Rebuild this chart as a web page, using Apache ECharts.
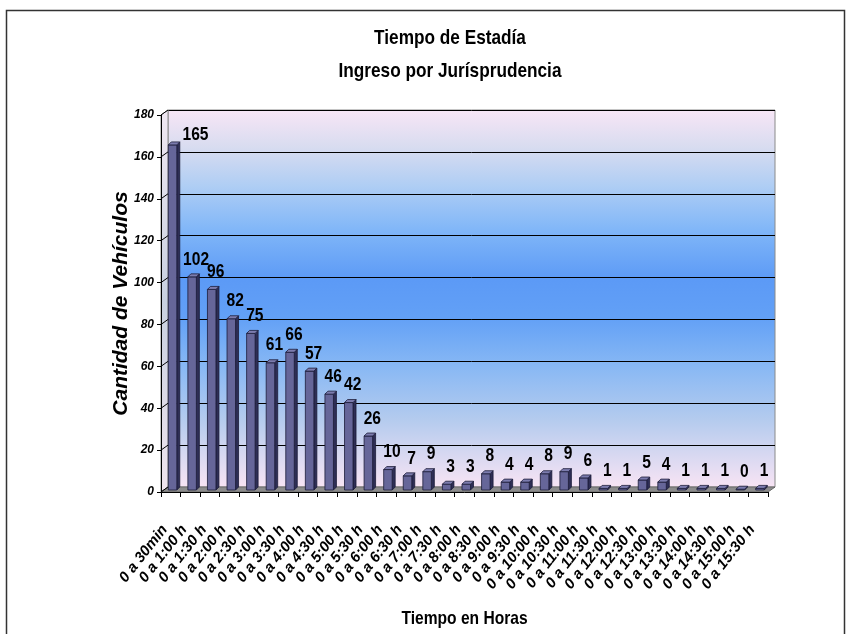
<!DOCTYPE html>
<html><head><meta charset="utf-8">
<script src="https://cdn.jsdelivr.net/npm/echarts@6/dist/echarts.min.js"></script>
<style>html,body{margin:0;padding:0;background:#fff}#c{width:850px;height:634px}</style>
</head><body><div id="c"></div>
<script>
const categories = ['0 a 30min','0 a 1:00 h','0 a 1:30 h','0 a 2:00 h','0 a 2:30 h','0 a 3:00 h','0 a 3:30 h','0 a 4:00 h','0 a 4:30 h','0 a 5:00 h','0 a 5:30 h','0 a 6:00 h','0 a 6:30 h','0 a 7:00 h','0 a 7:30 h','0 a 8:00 h','0 a 8:30 h','0 a 9:00 h','0 a 9:30 h','0 a 10:00 h','0 a 10:30 h','0 a 11:00 h','0 a 11:30 h','0 a 12:00 h','0 a 12:30 h','0 a 13:00 h','0 a 13:30 h','0 a 14:00 h','0 a 14:30 h','0 a 15:00 h','0 a 15:30 h'];
const values = [165,102,96,82,75,61,66,57,46,42,26,10,7,9,3,3,8,4,4,8,9,6,1,1,5,4,1,1,1,0,1];
const yMin = 0, yMax = 180, yStep = 20;
const titleText = 'Tiempo de Estadía';
const subtitleText = 'Ingreso por Jurísprudencia';
const yAxisName = 'Cantidad de Vehículos';
const xAxisName = 'Tiempo en Horas';

// layout
const G = {left:161, top:115, width:607, height:377};
const D = {dx:7, dy:-5};
const arial = '"Liberation Sans",Arial,sans-serif';
const NARROW = 0.82;

const chart = echarts.init(document.getElementById('c'), null, {renderer:'canvas'});

function renderBar(params, api){
  const idx = api.value(0), v = api.value(1);
  const p = api.coord([idx, v]);
  const b = api.coord([idx, 0]);
  const bw = 8.5, sd = 3;
  const x0 = p[0] - 2.5, x1 = x0 + bw;
  const yb = b[1] - 2;
  let yt = Math.min(p[1] - 1.5, yb - 0.8);
  const stroke = '#1c1c38';
  let lx = (x0 + x1) / 2 + 4, ly = yt - 8;
  if (idx === 0) { lx += 19; ly = yt - 1; }
  return {type:'group', children:[
    {type:'polygon', shape:{points:[[x1,yt],[x1+sd,yt-sd],[x1+sd,yb-sd],[x1,yb]]}, style:{fill:'#2e2e55', stroke:stroke, lineWidth:0.8}},
    {type:'rect', shape:{x:x0, y:yt, width:bw, height:yb-yt}, style:{fill:'#666699', stroke:stroke, lineWidth:0.8}},
    {type:'polygon', shape:{points:[[x0,yt],[x0+sd,yt-sd],[x1+sd,yt-sd],[x1,yt]]}, style:{fill:'#7c7cae', stroke:stroke, lineWidth:0.8}},
    {type:'text', x:lx, y:ly, scaleX:NARROW, style:{text:String(v), font:'bold 19px ' + arial, textAlign:'center', textVerticalAlign:'bottom', fill:'#000'}}
  ]};
}

const wallGradient = new echarts.graphic.LinearGradient(0,0,0,1,[
  {offset:0, color:'#f8e6f6'},
  {offset:0.1, color:'#d8dcf0'},
  {offset:0.2, color:'#b0cef4'},
  {offset:0.32, color:'#80b6f8'},
  {offset:0.45, color:'#5c9af6'},
  {offset:0.55, color:'#62a0f6'},
  {offset:0.68, color:'#88b8f4'},
  {offset:0.82, color:'#b4cbee'},
  {offset:1, color:'#f8e4f4'}
]);

const option = {
  animation:false,
  backgroundColor:'#fff',
  grid:[
    {left:G.left, top:G.top, width:G.width, height:G.height, containLabel:false},
    {left:G.left+D.dx, top:G.top+D.dy, width:G.width, height:G.height, show:true, backgroundColor:wallGradient, borderColor:'#8a8a8a', borderWidth:1, z:0}
  ],
  xAxis:[
    {type:'category', gridIndex:0, data:categories, boundaryGap:true,
     axisLine:{show:true, lineStyle:{color:'#000', width:1}},
     axisTick:{show:true, length:5, lineStyle:{color:'#000'}},
     axisLabel:{rotate:52, margin:27, padding:[0,10,0,0], interval:0, color:'#000', fontFamily:arial, fontWeight:'bold', fontStyle:'italic', fontSize:15},
     splitLine:{show:false}, z:3},
    {type:'category', gridIndex:1, data:categories, show:false}
  ],
  yAxis:[
    {type:'value', gridIndex:0, min:yMin, max:yMax, interval:yStep,
     axisLine:{show:true, lineStyle:{color:'#000', width:1}},
     axisTick:{show:true, length:4, lineStyle:{color:'#000'}},
     axisLabel:{margin:7, color:'#000', fontFamily:arial, fontWeight:'bold', fontStyle:'italic', fontSize:12},
     splitLine:{show:false}, z:3},
    {type:'value', gridIndex:1, min:yMin, max:yMax, interval:yStep,
     axisLine:{show:false}, axisTick:{show:false}, axisLabel:{show:false},
     splitLine:{show:true, lineStyle:{color:'#000', width:1}}}
  ],
  series:[
    {type:'custom', xAxisIndex:0, yAxisIndex:0, z:5,
     data: values.map((v,i)=>[i,v]),
     encode:{x:0, y:1},
     renderItem: renderBar, clip:false}
  ],
  graphic:[]
};
chart.setOption(option);

// decorations derived from the axes
const deco = [];
const x0px = chart.convertToPixel({xAxisIndex:0}, 0) - G.width/categories.length/2;
const xEnd = x0px + G.width;
const yZero = chart.convertToPixel({yAxisIndex:0}, yMin);
const yTop = chart.convertToPixel({yAxisIndex:0}, yMax);
deco.push({type:'polygon', z:1, shape:{points:[[x0px,yTop],[x0px+D.dx,yTop+D.dy],[x0px+D.dx,yZero+D.dy],[x0px,yZero]]},
  style:{fill:new echarts.graphic.LinearGradient(0,0,0,1,[{offset:0,color:'#f0e8f2'},{offset:0.5,color:'#c8d0e0'},{offset:1,color:'#f0e4ee'}]), stroke:'#8a8a8a', lineWidth:1}});
deco.push({type:'polygon', z:1, shape:{points:[[x0px,yZero],[x0px+D.dx,yZero+D.dy],[xEnd+D.dx,yZero+D.dy],[xEnd,yZero]]},
  style:{fill:'#8c8c8c', stroke:'#6a6a6a', lineWidth:1}});
for (let t = yMin; t <= yMax; t += yStep) {
  const y = chart.convertToPixel({yAxisIndex:0}, t);
  deco.push({type:'line', z:2, shape:{x1:x0px, y1:y, x2:x0px+D.dx, y2:y+D.dy}, style:{stroke:'#000', lineWidth:1}});
}
deco.push({type:'text', z:10, x:450, y:38, scaleX:NARROW, style:{text:titleText, font:'bold 21px ' + arial, textAlign:'center', textVerticalAlign:'middle', fill:'#000'}});
deco.push({type:'text', z:10, x:450, y:71, scaleX:NARROW, style:{text:subtitleText, font:'bold 21px ' + arial, textAlign:'center', textVerticalAlign:'middle', fill:'#000'}});
deco.push({type:'text', z:10, x:(x0px + xEnd)/2, y:619, scaleX:NARROW, style:{text:xAxisName, font:'bold 19px ' + arial, textAlign:'center', textVerticalAlign:'middle', fill:'#000'}});
deco.push({type:'text', z:10, x:121, y:(yTop + yZero)/2, rotation:Math.PI/2, style:{text:yAxisName, font:'italic bold 21px ' + arial, textAlign:'center', textVerticalAlign:'middle', fill:'#000'}});
deco.push({type:'rect', z:10, shape:{x:6.5, y:10.5, width:838, height:700}, style:{fill:'none', stroke:'#333', lineWidth:1.5}});
chart.setOption({graphic:deco});
</script>
</body></html>
